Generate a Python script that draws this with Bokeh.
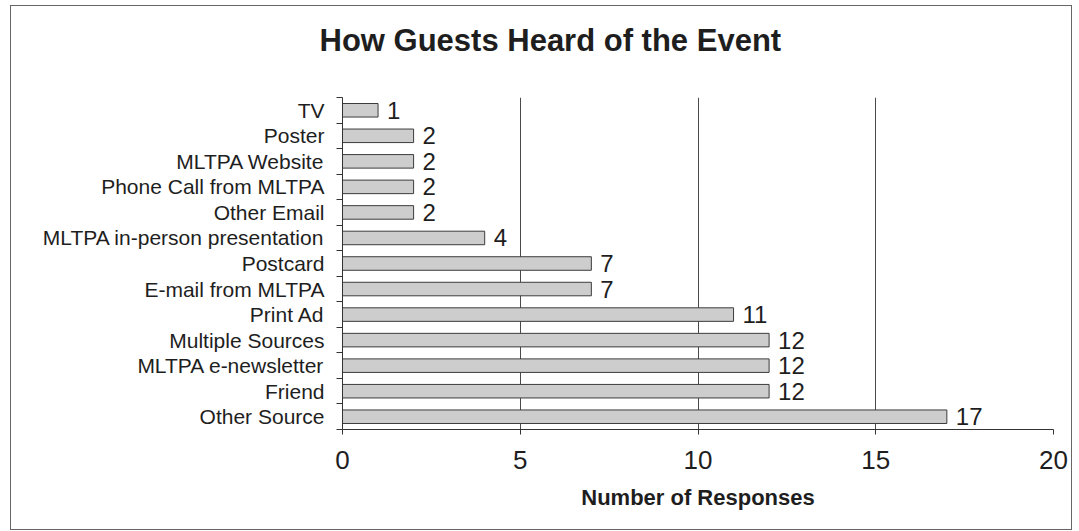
from bokeh.plotting import figure
from bokeh.models import Range1d, FixedTicker, ColumnDataSource, LabelSet
from bokeh.embed import file_html
from bokeh.resources import INLINE
from bokeh.core.properties import value

# ---- data (bottom to top) ----
categories = ["Other Source", "Friend", "MLTPA e-newsletter", "Multiple Sources",
              "Print Ad", "E-mail from MLTPA", "Postcard",
              "MLTPA in-person presentation", "Other Email",
              "Phone Call from MLTPA", "MLTPA Website", "Poster", "TV"]
responses = [17, 12, 12, 12, 11, 7, 7, 4, 2, 2, 2, 2, 1]
x_ticks = [0, 5, 10, 15, 20]
title_text = "How Guests Heard of the Event"
x_label = "Number of Responses"

FONT = "Liberation Sans"
TXT = "#1e1e1e"

n = len(categories)
ypos = list(range(1, n + 1))
src = ColumnDataSource(dict(y=ypos, v=responses, lbl=[str(r) for r in responses], cat=categories))

p = figure(width=1062, height=525, output_backend="svg", toolbar_location=None,
           x_range=Range1d(0, 20), y_range=Range1d(0.5, n + 0.5),
           min_border_left=331, min_border_right=20, min_border_top=91, min_border_bottom=102)
p.styles = {"border": "1px solid #666", "box-sizing": "border-box",
            "margin-left": "10px", "margin-top": "5px"}
p.outline_line_color = None
p.background_fill_color = "white"
p.border_fill_color = "white"

# trailing empty line lifts the title away from the plot area
p.title.text = title_text + "\n"
p.title.align = "left"
p.title.offset = -23
p.title.standoff = 10
p.title.text_font = FONT
p.title.text_font_style = "bold"
p.title.text_font_size = "31px"
p.title.text_color = TXT

p.hbar(y="y", left=0, right="v", height=0.53, source=src,
       fill_color="#cdcdcd", line_color="#3c3c3c", line_width=1)

labels = LabelSet(x="v", y="y", text="lbl", source=src, x_offset=9,
                  text_baseline="middle", text_align="left",
                  text_font_size=value("24px"), text_font=value(FONT), text_color=value(TXT))
p.add_layout(labels)

# x axis
p.xaxis.ticker = FixedTicker(ticks=x_ticks)
p.xaxis.major_tick_out = 5
p.xaxis.major_tick_in = 0
p.xaxis.minor_tick_line_color = None
p.xaxis.axis_line_color = "#333333"
p.xaxis.major_tick_line_color = "#333333"
p.xaxis.major_label_text_font = FONT
p.xaxis.major_label_text_font_size = "26px"
p.xaxis.major_label_text_color = TXT
p.xaxis.major_label_standoff = 16
p.xaxis.axis_label = x_label
p.xaxis.axis_label_text_font = FONT
p.xaxis.axis_label_text_font_style = "bold"
p.xaxis.axis_label_text_font_size = "22px"
p.xaxis.axis_label_text_color = TXT
p.xaxis.axis_label_standoff = 13

# y axis: labels at category centers, ticks at category boundaries
p.yaxis.ticker = FixedTicker(ticks=ypos, minor_ticks=[i + 0.5 for i in range(n + 1)])
p.yaxis.major_label_overrides = {y: c for y, c in zip(ypos, categories)}
p.yaxis.major_tick_out = 0
p.yaxis.major_tick_in = 0
p.yaxis.minor_tick_out = 6
p.yaxis.minor_tick_in = 0
p.yaxis.axis_line_color = "#333333"
p.yaxis.minor_tick_line_color = "#333333"
p.yaxis.major_label_text_font = FONT
p.yaxis.major_label_text_font_size = "21px"
p.yaxis.major_label_text_color = TXT
p.yaxis.major_label_standoff = 12

p.xgrid.ticker = FixedTicker(ticks=x_ticks[1:])
p.xgrid.grid_line_color = "#4a4a4a"
p.xgrid.grid_line_width = 1
p.ygrid.grid_line_color = None

open("out.html", "w").write(file_html(p, INLINE))
